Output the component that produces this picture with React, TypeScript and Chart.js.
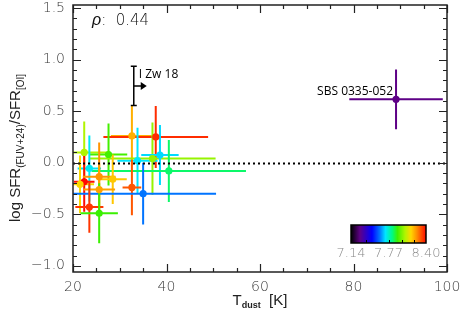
import React, { useEffect, useRef } from "react";
import { Chart, registerables } from "chart.js";
Chart.register(...registerables);

// ---- data ----
const tdust = [32.6, 37.7, 22.4, 27.6, 33.8, 37.0, 38.6, 40.5, 23.5, 22.4, 25.6, 21.5, 28.5, 25.6, 32.6, 35.0, 23.5, 25.6, 89.1];
const tdustErr = [4.5, 11.2, 5.5, 4.0, 4.3, 13.5, 4.0, 16.5, 2.5, 2.2, 3.5, 3.0, 3.0, 3.4, 2.0, 15.6, 3.0, 4.0, 10.0];
const sfrRatio = [0.26, 0.25, 0.10, 0.08, 0.02, 0.04, 0.075, -0.08, -0.055, -0.185, -0.135, -0.21, -0.16, -0.26, -0.24, -0.30, -0.43, -0.49, 0.615];
const sfrRatioErr = [0.29, 0.3, 0.3, 0.3, 0.32, 0.35, 0.29, 0.3, 0.32, 0.29, 0.33, 0.28, 0.24, 0.25, 0.27, 0.3, 0.25, 0.29, 0.29];
const oxygenAbundance = [8.20, 8.36, 8.05, 7.93, 7.72, 8.02, 7.71, 7.85, 7.73, 8.40, 8.24, 8.14, 8.17, 8.22, 8.31, 7.62, 8.35, 7.92, 7.29];
const galaxyNames = ["", "", "", "", "", "", "", "", "", "", "", "", "", "", "", "", "", "", "SBS 0335-052"];

const izw18Tdust = 33.0;
const izw18Ratio = 0.745;
const izw18RatioErr = 0.19;
const izw18Name = "I Zw 18";

const rho = "0.44";
const colorbarTicks = ["7.14", "7.77", "8.40"];
const zMin = 7.14;
const zMax = 8.40;

const xTickValues = [20, 40, 60, 80, 100];
const yTickValues = [-1.0, -0.5, 0.0, 0.5, 1.0, 1.5];
const xMin = 20, xMax = 100;
const yMin = -1.06, yMax = 1.53;

// ---- colormap (rainbow) ----
const STOPS: [number, number[]][] = [
  [0.0, [0, 0, 0]],
  [0.12, [95, 0, 135]],
  [0.28, [0, 0, 255]],
  [0.38, [0, 115, 255]],
  [0.46, [0, 230, 255]],
  [0.55, [0, 250, 130]],
  [0.62, [60, 240, 0]],
  [0.72, [175, 245, 0]],
  [0.80, [255, 215, 0]],
  [0.88, [255, 140, 0]],
  [1.0, [255, 10, 0]],
];
function cmap(t: number): string {
  t = Math.max(0, Math.min(1, t));
  for (let i = 1; i < STOPS.length; i++) {
    const [t1, c1] = STOPS[i];
    const [t0, c0] = STOPS[i - 1];
    if (t <= t1) {
      const f = (t - t0) / (t1 - t0);
      const c = c0.map((v, k) => Math.round(v + (c1[k] - v) * f));
      return `rgb(${c[0]},${c[1]},${c[2]})`;
    }
  }
  return "rgb(255,0,0)";
}
const zColor = (z: number) => cmap((z - zMin) / (zMax - zMin));

const TICK_FONT = "'DejaVu Sans', sans-serif";
const TITLE_FONT = "'Liberation Sans', Arial, sans-serif";
const TICK_COLOR = "#3a3a3a";
const minus = (v: number, d: number) => (v < 0 ? "\u2212" : "") + Math.abs(v).toFixed(d);

const overlayPlugin = {
  id: "overlay",
  beforeDatasetsDraw(chart: any) {
    const { ctx, chartArea: a, scales } = chart;
    const xs = scales.x, ys = scales.y;
    ctx.save();
    ctx.beginPath();
    ctx.rect(a.left, a.top, a.right - a.left, a.bottom - a.top);
    ctx.clip();
    ctx.lineWidth = 2;
    for (let i = 0; i < tdust.length; i++) {
      const col = zColor(oxygenAbundance[i]);
      ctx.strokeStyle = col;
      const px = xs.getPixelForValue(tdust[i]);
      const py = ys.getPixelForValue(sfrRatio[i]);
      ctx.beginPath();
      ctx.moveTo(xs.getPixelForValue(tdust[i] - tdustErr[i]), py);
      ctx.lineTo(xs.getPixelForValue(tdust[i] + tdustErr[i]), py);
      ctx.moveTo(px, ys.getPixelForValue(sfrRatio[i] - sfrRatioErr[i]));
      ctx.lineTo(px, ys.getPixelForValue(sfrRatio[i] + sfrRatioErr[i]));
      ctx.stroke();
    }
    ctx.restore();
  },
  afterDatasetsDraw(chart: any) {
    const { ctx, chartArea: a, scales } = chart;
    const xs = scales.x, ys = scales.y;
    ctx.save();
    // dotted zero line
    ctx.strokeStyle = "#000";
    ctx.lineWidth = 2;
    ctx.setLineDash([2, 3]);
    const y0 = Math.round(ys.getPixelForValue(0)) + 0.5;
    ctx.beginPath();
    ctx.moveTo(a.left, y0);
    ctx.lineTo(a.right, y0);
    ctx.stroke();
    ctx.setLineDash([]);

    // I Zw 18 lower limit
    const ix = xs.getPixelForValue(izw18Tdust);
    const iy = ys.getPixelForValue(izw18Ratio);
    const iyT = ys.getPixelForValue(izw18Ratio + izw18RatioErr);
    const iyB = ys.getPixelForValue(izw18Ratio - izw18RatioErr);
    ctx.strokeStyle = "#000";
    ctx.fillStyle = "#000";
    ctx.lineWidth = 1.5;
    ctx.beginPath();
    ctx.moveTo(ix, iyT); ctx.lineTo(ix, iyB);
    ctx.moveTo(ix - 3, iyT); ctx.lineTo(ix + 3, iyT);
    ctx.moveTo(ix - 3, iyB); ctx.lineTo(ix + 3, iyB);
    ctx.moveTo(ix, iy); ctx.lineTo(ix + 9, iy);
    ctx.stroke();
    ctx.beginPath();
    ctx.moveTo(ix + 13, iy);
    ctx.lineTo(ix + 7, iy - 4);
    ctx.lineTo(ix + 7, iy + 4);
    ctx.closePath();
    ctx.fill();
    ctx.font = "12px 'Open Sans', sans-serif";
    ctx.textAlign = "left";
    ctx.textBaseline = "middle";
    ctx.fillText(izw18Name, ix + 5, iyT + 8);

    // named galaxy labels
    ctx.textAlign = "right";
    ctx.textBaseline = "alphabetic";
    for (let i = 0; i < galaxyNames.length; i++) {
      if (!galaxyNames[i]) continue;
      const px = xs.getPixelForValue(tdust[i]);
      const py = ys.getPixelForValue(sfrRatio[i]);
      ctx.fillText(galaxyNames[i], px - 3, py - 4);
    }

    // frame
    ctx.strokeStyle = "#222";
    ctx.lineWidth = 1.5;
    ctx.strokeRect(a.left, a.top, a.right - a.left, a.bottom - a.top);
    ctx.lineWidth = 1.2;
    ctx.beginPath();
    for (let v = xMin; v <= xMax + 1e-6; v += 5) {
      const p = Math.round(xs.getPixelForValue(v)) + 0.5;
      const len = Math.abs(v % 20) < 1e-6 ? 8 : 4;
      ctx.moveTo(p, a.bottom); ctx.lineTo(p, a.bottom - len);
      ctx.moveTo(p, a.top); ctx.lineTo(p, a.top + len);
    }
    for (let k = -10; k <= 15; k++) {
      const v = k / 10;
      const p = Math.round(ys.getPixelForValue(v)) + 0.5;
      const len = k % 5 === 0 ? 8 : 4;
      ctx.moveTo(a.left, p); ctx.lineTo(a.left + len, p);
      ctx.moveTo(a.right, p); ctx.lineTo(a.right - len, p);
    }
    ctx.stroke();

    // rho annotation
    ctx.fillStyle = "#111";
    ctx.textAlign = "left";
    ctx.textBaseline = "alphabetic";
    ctx.font = `italic 16px ${TITLE_FONT}`;
    ctx.fillText("\u03c1", 92, 25);
    const rw = ctx.measureText("\u03c1").width;
    ctx.font = `300 15px ${TICK_FONT}`;
    ctx.fillText(":  " + rho, 92 + rw, 25);

    // colorbar
    const cbL = 351, cbR = 426, cbT = 225, cbB = 243;
    for (let x = cbL; x < cbR; x++) {
      ctx.fillStyle = cmap((x - cbL + 0.5) / (cbR - cbL));
      ctx.fillRect(x, cbT, 1, cbB - cbT);
    }
    ctx.strokeStyle = "#000";
    ctx.lineWidth = 1.5;
    ctx.strokeRect(cbL, cbT, cbR - cbL, cbB - cbT);
    ctx.lineWidth = 1;
    ctx.beginPath();
    [7.4, 7.77, 8.0, 8.2].forEach((z) => {
      const p = Math.round(cbL + ((z - zMin) / (zMax - zMin)) * (cbR - cbL)) + 0.5;
      ctx.moveTo(p, cbB); ctx.lineTo(p, cbB - 3);
    });
    ctx.stroke();
    ctx.fillStyle = "#888";
    ctx.font = `300 13px ${TICK_FONT}`;
    ctx.textAlign = "center";
    ctx.textBaseline = "top";
    colorbarTicks.forEach((t, i) => {
      const p = cbL + (i / (colorbarTicks.length - 1)) * (cbR - cbL);
      ctx.fillText(t, p, cbB + 4);
    });

    // axis titles
    ctx.fillStyle = "#222";
    ctx.textBaseline = "alphabetic";
    const drawRich = (parts: [string, string, number][], cx: number, cy: number) => {
      let total = 0;
      parts.forEach(([t, f]) => { ctx.font = f; total += ctx.measureText(t).width; });
      let x = cx - total / 2;
      ctx.textAlign = "left";
      parts.forEach(([t, f, dy]) => {
        ctx.font = f;
        ctx.fillText(t, x, cy + dy);
        x += ctx.measureText(t).width;
      });
    };
    const main = `15px ${TITLE_FONT}`;
    const sub = `10px ${TITLE_FONT}`;
    drawRich([["T", main, 0], ["dust", `bold 9px ${TITLE_FONT}`, 3], ["  [K]", main, 0]], 260, 305);
    ctx.save();
    ctx.translate(20, 148);
    ctx.rotate(-Math.PI / 2);
    drawRich([["log SFR", main, 0], ["(FUV+24)", sub, 4], ["/SFR", main, 0], ["[OI]", sub, 4]], 0, 0);
    ctx.restore();
    ctx.restore();
  },
};

export default function App() {
  const ref = useRef<HTMLCanvasElement>(null);
  useEffect(() => {
    if (!ref.current) return;
    const points = tdust.map((x, i) => ({ x, y: sfrRatio[i] }));
    const chart = new Chart(ref.current, {
      type: "scatter",
      data: {
        datasets: [
          {
            data: points,
            pointRadius: 3.6,
            pointHoverRadius: 3.6,
            pointBorderWidth: 0,
            pointBackgroundColor: oxygenAbundance.map(zColor),
          },
        ],
      },
      options: {
        responsive: false,
        animation: false,
        events: [],
        layout: { padding: { top: 5, right: 16, left: 0, bottom: 0 } },
        plugins: { legend: { display: false }, tooltip: { enabled: false } },
        scales: {
          x: {
            type: "linear",
            min: xMin,
            max: xMax,
            grid: { display: false, drawTicks: false },
            border: { display: false },
            afterBuildTicks: (s: any) => { s.ticks = xTickValues.map((v) => ({ value: v })); },
            afterFit: (s: any) => { s.height = 48; s.paddingLeft = 0; s.paddingRight = 0; },
            ticks: {
              padding: 7,
              color: TICK_COLOR,
              font: { family: TICK_FONT, size: 14, weight: "300" },
              maxRotation: 0,
              callback: (v: any) => String(v),
            },
          },
          y: {
            type: "linear",
            min: yMin,
            max: yMax,
            grid: { display: false, drawTicks: false },
            border: { display: false },
            afterBuildTicks: (s: any) => { s.ticks = yTickValues.map((v) => ({ value: v })); },
            afterFit: (s: any) => { s.width = 73; s.paddingTop = 0; s.paddingBottom = 0; },
            ticks: {
              padding: 8,
              color: TICK_COLOR,
              font: { family: TICK_FONT, size: 14, weight: "300" },
              callback: (v: any) => minus(Number(v), 1),
            },
          },
        },
      },
      plugins: [overlayPlugin],
    });
    return () => chart.destroy();
  }, []);
  return (
    <div style={{ position: "fixed", left: 0, top: 0, width: 463, height: 320, background: "#fff" }}>
      <canvas ref={ref} width={463} height={320} />
    </div>
  );
}
